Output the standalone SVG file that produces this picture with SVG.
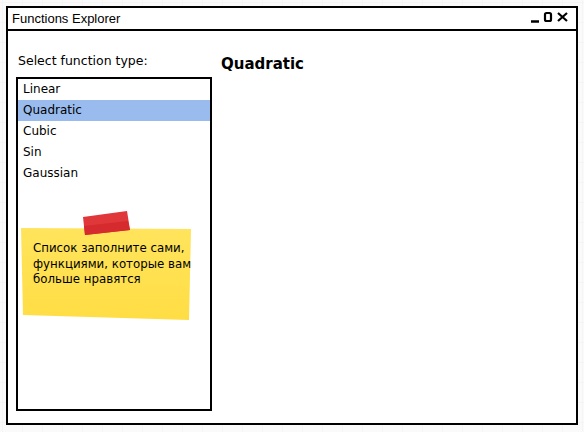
<svg xmlns="http://www.w3.org/2000/svg" width="584" height="432" viewBox="0 0 584 432">
<defs>
<pattern id="grid" width="20" height="20" patternUnits="userSpaceOnUse" x="2" y="2">
<path d="M20 0H0V20" fill="none" stroke="#f0f0f0" stroke-width="1"/>
</pattern>
<linearGradient id="note" x1="0" y1="0" x2="0" y2="1">
<stop offset="0" stop-color="#FFE45C"/>
<stop offset="1" stop-color="#FFDD44"/>
</linearGradient>
</defs>
<style>
text{font-family:"DejaVu Sans","Liberation Sans",Arial,sans-serif;fill:#000}
.t{font-family:"Liberation Sans",Arial,sans-serif;font-size:13px}
.item{font-size:12px}
.lbl{font-size:12.5px}
.nt{font-size:11.8px}
.frame{fill:#fff;stroke:#000;stroke-width:2}
</style>
<rect width="584" height="432" fill="#fafafa"/>
<rect width="584" height="432" fill="url(#grid)"/>
<g id="window">
<rect class="frame" x="7" y="7" width="570" height="417"/>
<line x1="7" y1="30" x2="577" y2="30" stroke="#000" stroke-width="2"/>
<text class="t" x="12" y="23">Functions Explorer</text>
<g id="controls" stroke="#000" stroke-width="2.2" fill="none">
<line x1="531" y1="21.5" x2="539" y2="21.5" stroke-width="2.5"/>
<rect x="545" y="13" width="6" height="8" rx="1.5"/>
<path d="M558 13L567 21M567 13L558 21"/>
</g>
</g>
<g id="label">
<text class="lbl" x="18" y="65">Select function type:</text>
</g>
<g id="heading">
<text x="221" y="69" style="font-size:15px;font-weight:bold">Quadratic</text>
</g>
<g id="list">
<rect class="frame" x="17" y="78" width="194" height="332"/>
<rect x="18" y="100" width="192" height="21" fill="#99BBEE"/>
<text class="item" x="23" y="93">Linear</text>
<text class="item" x="23" y="114">Quadratic</text>
<text class="item" x="23" y="135">Cubic</text>
<text class="item" x="23" y="156">Sin</text>
<text class="item" x="23" y="177">Gaussian</text>
</g>
<g id="sticky">
<polygon points="21,228 191,229 189,320 23,315" fill="url(#note)"/>
<polygon points="83,217 127,211 130,230 85,235" fill="#E0373A"/>
<polygon points="84,226 128,221 130,230 85,235" fill="#D52A2E"/>
<text class="nt" x="33" y="252">Список заполните сами,</text>
<text class="nt" x="33" y="268">функциями, которые вам</text>
<text class="nt" x="33" y="283">больше нравятся</text>
</g>
<g id="connectors"/>
</svg>
